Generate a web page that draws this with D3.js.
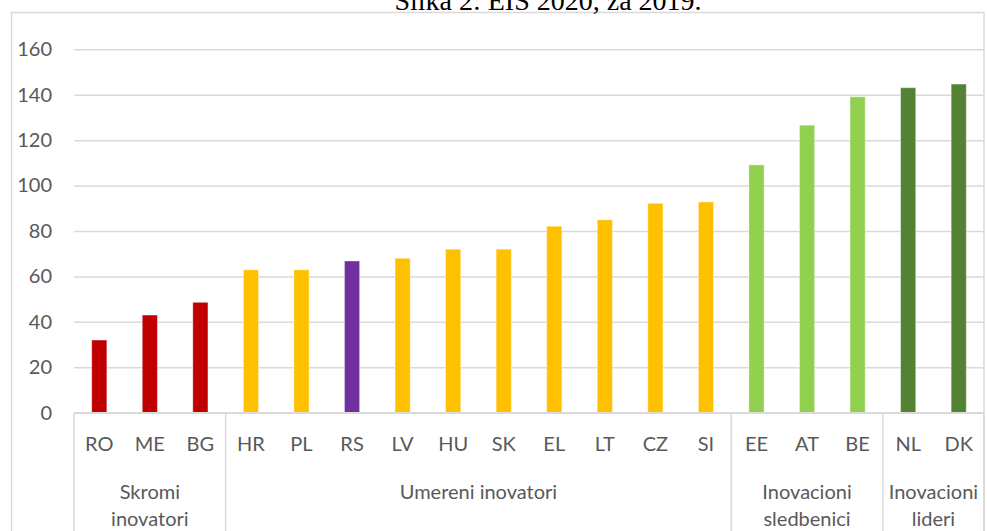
<!DOCTYPE html>
<html>
<head>
<meta charset="utf-8">
<script src="https://cdn.jsdelivr.net/npm/d3@7"></script>
<style>
  body { margin: 0; background: #fff; }
  svg { display: block; }
</style>
</head>
<body>
<div id="chart"></div>
<script>
var countries = ['RO', 'ME', 'BG', 'HR', 'PL', 'RS', 'LV', 'HU', 'SK', 'EL', 'LT', 'CZ', 'SI', 'EE', 'AT', 'BE', 'NL', 'DK']
var values = [32.0, 43.0, 48.6, 62.9, 62.9, 66.8, 68.0, 72.0, 72.0, 82.1, 84.9, 92.2, 92.8, 109.1, 126.6, 139.1, 143.1, 144.7]
var barColors = ['#C00000', '#C00000', '#C00000', '#FFC000', '#FFC000', '#7030A0', '#FFC000', '#FFC000', '#FFC000', '#FFC000', '#FFC000', '#FFC000', '#FFC000', '#92D050', '#92D050', '#92D050', '#548235', '#548235']
var groupNames = [['Skromi', 'inovatori'], ['Umereni inovatori'], ['Inovacioni', 'sledbenici'], ['Inovacioni', 'lideri']]
var groupSizes = [3, 10, 3, 2]
var yTicks = [0, 20, 40, 60, 80, 100, 120, 140, 160]
var title = 'Slika 2: EIS 2020, za 2019.'

var W = 987, H = 531
var margin = {top: 49.3, left: 74, right: 3, bottom: 118.3}
var width = W - margin.left - margin.right
var height = H - margin.top - margin.bottom
var textColor = '#595959'
var gridColor = '#d9d9d9'
var font = 'Lato, Carlito, Calibri, sans-serif'

var svg = d3.select('#chart').append('svg')
  .attr('width', W)
  .attr('height', H)

// chart area border
svg.append('rect')
  .attr('x', 11.5).attr('y', 12.5)
  .attr('width', 984 - 11.5).attr('height', H)
  .attr('fill', 'none')
  .attr('stroke', gridColor)
  .attr('stroke-width', 1.5)

// title (cut off at the top, as in the original)
svg.append('text')
  .attr('x', 548)
  .attr('y', 10)
  .attr('text-anchor', 'middle')
  .style('font-family', '"Liberation Serif", "Times New Roman", serif')
  .style('font-size', '28px')
  .attr('fill', '#000')
  .text(title)

var g = svg.append('g')
  .attr('transform', 'translate(' + margin.left + ',' + margin.top + ')')

var x = d3.scaleBand()
  .domain(countries)
  .range([0, width])
  .paddingInner(0)
  .paddingOuter(0)

var y = d3.scaleLinear()
  .domain([0, 160])
  .range([height, 0])

// Y AXIS + GRID
var yAxis = d3.axisLeft(y).tickValues(yTicks).tickSize(-width).tickPadding(22)
g.append('g')
  .attr('class', 'y_axis')
  .call(yAxis)
  .call(function(a) {
    a.select('.domain').remove()
    a.selectAll('line')
      .attr('stroke', gridColor)
      .attr('stroke-width', 1.5)
    a.selectAll('text')
      .attr('fill', textColor)
      .style('font-family', font)
      .style('font-size', '20px')
  })

// BARS
var barW = x.bandwidth() * 0.3
g.selectAll('.bar')
  .data(countries)
  .enter().append('rect')
    .attr('class', 'bar')
    .attr('x', function(d) { return x(d) + (x.bandwidth() - barW) / 2 })
    .attr('y', function(d, i) { return y(values[i]) })
    .attr('width', barW)
    .attr('height', function(d, i) { return height - y(values[i]) })
    .attr('fill', function(d, i) { return barColors[i] })
    .attr('stroke', 'rgba(255,255,255,0.4)')
    .attr('stroke-width', 1)

// X AXIS line
g.append('line')
  .attr('x1', 0).attr('x2', width)
  .attr('y1', height).attr('y2', height)
  .attr('stroke', gridColor)
  .attr('stroke-width', 1.5)

// country labels
g.selectAll('.clabel')
  .data(countries)
  .enter().append('text')
    .attr('class', 'clabel')
    .attr('x', function(d) { return x(d) + x.bandwidth() / 2 })
    .attr('y', height + 38)
    .attr('text-anchor', 'middle')
    .attr('fill', textColor)
    .style('font-family', font)
    .style('font-size', '20px')
    .text(function(d) { return d })

// group separators and labels
var start = 0
var bounds = [0]
groupSizes.forEach(function(n) { start += n; bounds.push(start) })

bounds.forEach(function(b) {
  var xx = b < countries.length ? x(countries[b]) : width
  g.append('line')
    .attr('x1', xx).attr('x2', xx)
    .attr('y1', height).attr('y2', H)
    .attr('stroke', gridColor)
    .attr('stroke-width', 1.5)
})

groupNames.forEach(function(lines, i) {
  var x0 = x(countries[bounds[i]])
  var x1 = bounds[i + 1] < countries.length ? x(countries[bounds[i + 1]]) : width
  var t = g.append('text')
    .attr('x', (x0 + x1) / 2)
    .attr('y', height + 86)
    .attr('text-anchor', 'middle')
    .attr('fill', textColor)
    .style('font-family', font)
    .style('font-size', '20px')
  lines.forEach(function(l, j) {
    t.append('tspan')
      .attr('x', (x0 + x1) / 2)
      .attr('dy', j == 0 ? 0 : 27)
      .text(l)
  })
})
</script>
</body>
</html>
